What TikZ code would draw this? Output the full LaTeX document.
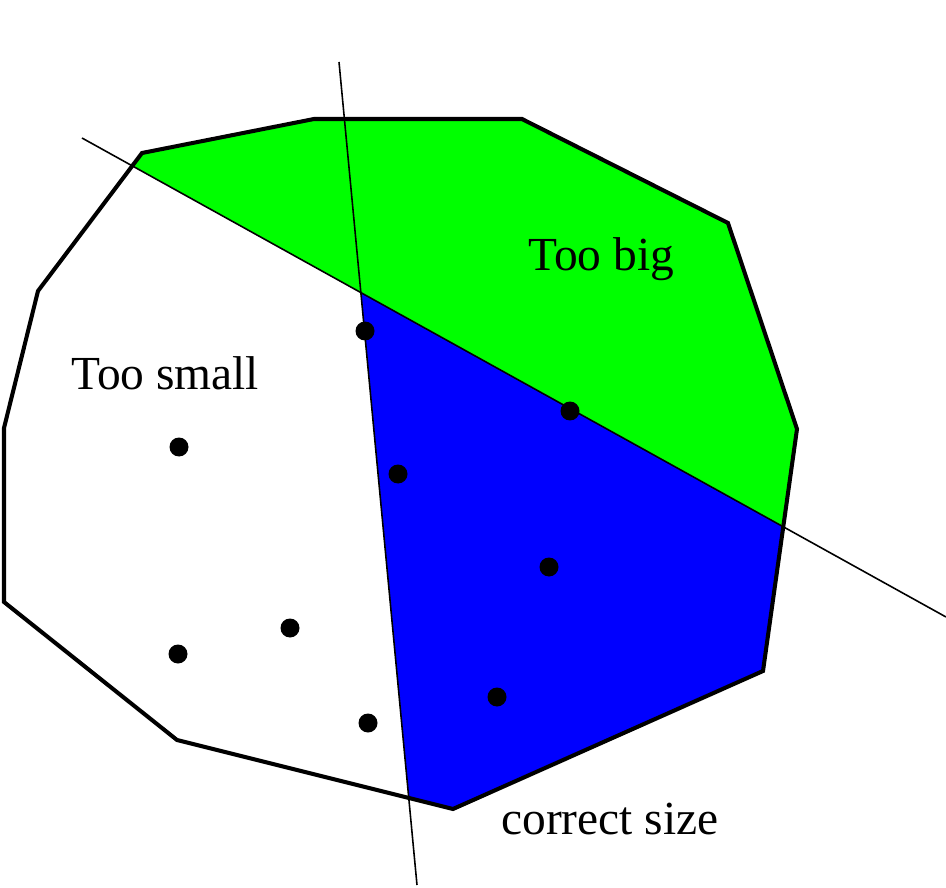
\documentclass[tikz,border=0pt]{standalone}
\usepackage{fontspec}
\setmainfont{Liberation Serif}
\begin{document}
\begin{tikzpicture}[
        x=0.02cm, y=-0.02cm,
        hull/.style={line width=2.3pt, line join=miter},
        cut/.style={line width=0.9pt},
        sample/.style={circle, fill=black, inner sep=0pt, minimum size=0.38cm},
        region/.style={font=\fontsize{27}{31}\selectfont, anchor=base west, inner sep=0pt}
    ]
        \useasboundingbox (0,0) rectangle (946,888);

        % Polygon corners
        \coordinate (v1) at (142,153);
        \coordinate (v2) at (314,119);
        \coordinate (v3) at (522,119);
        \coordinate (v4) at (728,223);
        \coordinate (v5) at (797,429);
        \coordinate (v6) at (763,671);
        \coordinate (v7) at (453,809);
        \coordinate (v8) at (177,740);
        \coordinate (v9) at (4,602);
        \coordinate (v10) at (4,428);
        \coordinate (v11) at (38,291);

        % Cutting lines
        \coordinate (c1a) at (82,138);
        \coordinate (c1b) at (946,617);
        \coordinate (c2a) at (339,62);
        \coordinate (c2b) at (417,885);

        \coordinate (gl) at (intersection of c1a--c1b and v11--v1);
        \coordinate (gr) at (intersection of c1a--c1b and v5--v6);
        \coordinate (mid) at (intersection of c1a--c1b and c2a--c2b);
        \coordinate (bl) at (intersection of c2a--c2b and v8--v7);

        % Regions
        \fill[green] (gl) -- (v1) -- (v2) -- (v3) -- (v4) -- (v5) -- (gr) -- cycle;
        \fill[blue] (mid) -- (gr) -- (v6) -- (v7) -- (bl) -- cycle;

        \draw[cut] (c1a) -- (c1b);
        \draw[cut] (c2a) -- (c2b);

        \draw[hull] (v1) -- (v2) -- (v3) -- (v4) -- (v5) -- (v6) -- (v7)
            -- (v8) -- (v9) -- (v10) -- (v11) -- cycle;

        % Samples
        \node[sample] (d1) at (365,331) {};
        \node[sample] (d2) at (570,411) {};
        \node[sample] (d3) at (398,474) {};
        \node[sample] (d4) at (179,447) {};
        \node[sample] (d5) at (549,567) {};
        \node[sample] (d6) at (290,628) {};
        \node[sample] (d7) at (178,654) {};
        \node[sample] (d8) at (368,723) {};
        \node[sample] (d9) at (497,697) {};

        % Labels
        \node[region] (big) at (528,271) {Too big};
        \node[region] (small) at (71,389) {Too small};
        \node[region] (right) at (501,834) {correct size};
    \end{tikzpicture}
\end{document}
